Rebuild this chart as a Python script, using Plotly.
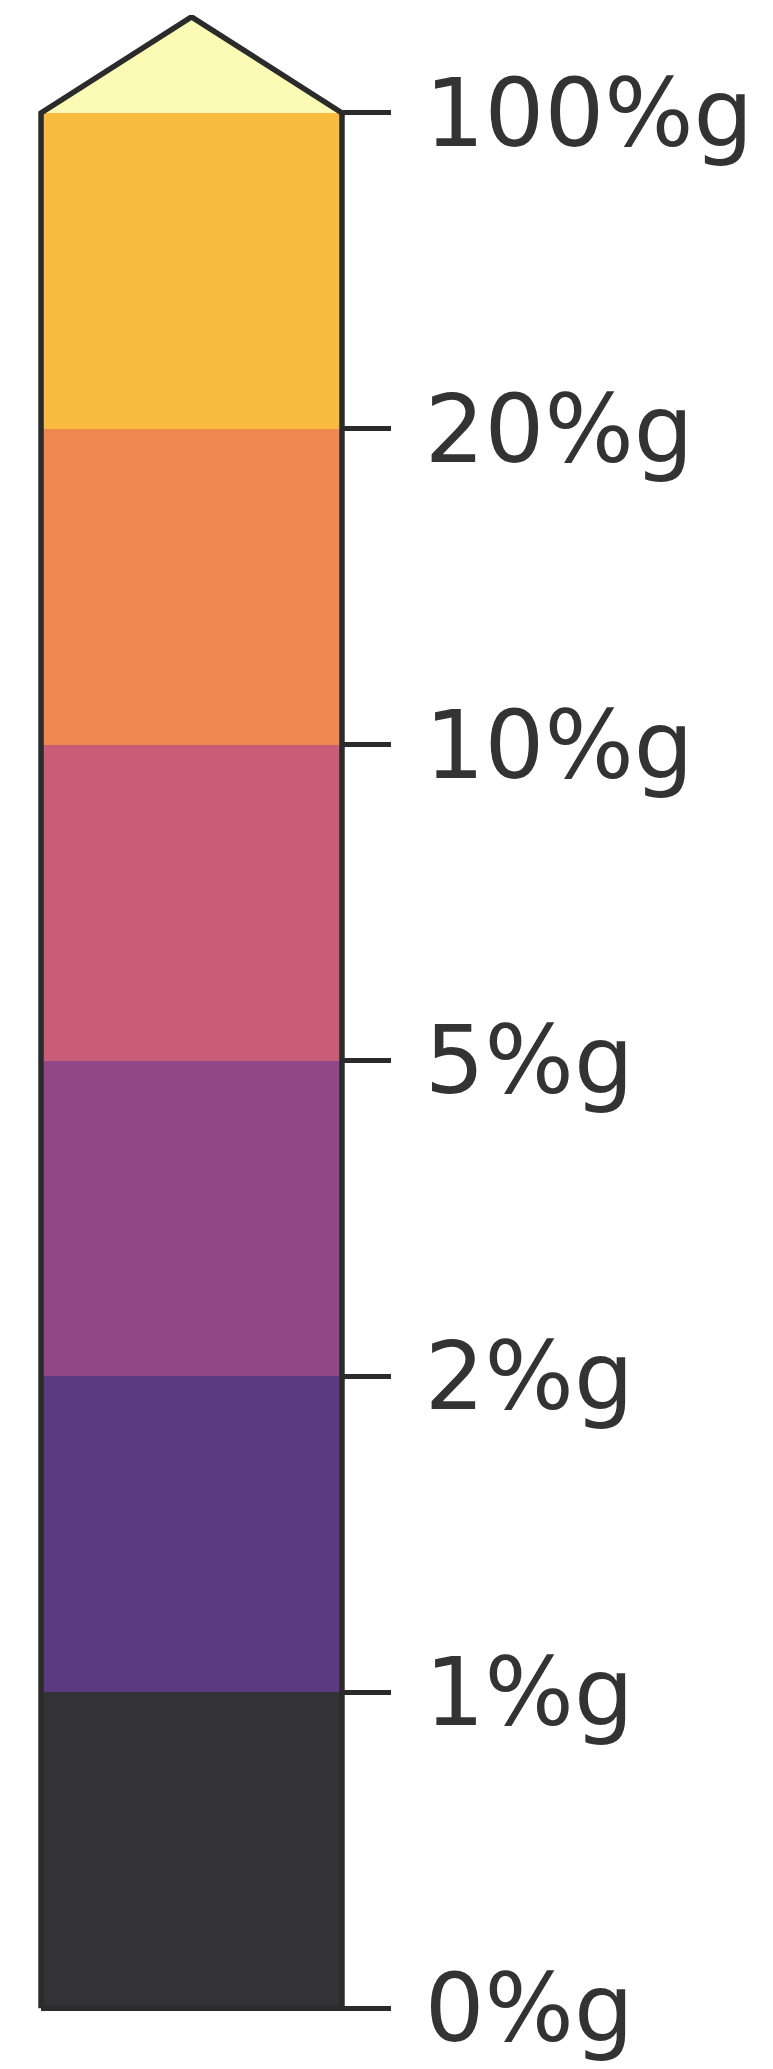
import plotly.graph_objects as go

# Data
boundaries = [0, 1, 2, 5, 10, 20, 100]
tick_labels = ["0%g", "1%g", "2%g", "5%g", "10%g", "20%g", "100%g"]
segment_colors = ["#333236", "#5C3A7F", "#924888", "#C95C77", "#EE8850", "#F9BC41"]
extend_color = "#FBFBB6"

n = len(boundaries) - 1
positions = list(range(len(boundaries)))
ext_h = 0.304
outline = "#2B2B2B"

xr = [-0.52, 0.52]
yr = [-0.015, positions[-1] + 0.31]

fig = go.Figure()

# Colour segments (equal spacing per boundary index)
fig.add_trace(go.Bar(
    x=[0] * n,
    y=[positions[i + 1] - positions[i] for i in range(n)],
    base=positions[:-1],
    width=1,
    marker=dict(color=segment_colors, line=dict(width=0)),
    showlegend=False, hoverinfo="skip",
))

# Extension triangle (max)
top = positions[-1]
fig.add_trace(go.Scatter(
    x=[-0.5, 0, 0.5, -0.5], y=[top, top + ext_h, top, top],
    fill="toself", fillcolor=extend_color, mode="lines",
    line=dict(width=0, color=extend_color), showlegend=False, hoverinfo="skip",
))

# Outline (on the tick-bearing overlay axis)
fig.add_trace(go.Scatter(
    x=[-0.5, 0.5, 0.5, 0, -0.5, -0.5],
    y=[0, 0, top, top + ext_h, top, 0],
    mode="lines", line=dict(width=5.5, color=outline),
    showlegend=False, hoverinfo="skip", yaxis="y2",
))

# position of the bar's right edge within the plot area (0..1)
edge_pos = (0.5 - xr[0]) / (xr[1] - xr[0])

fig.update_layout(
    width=773, height=2069,
    margin=dict(l=35, r=425, t=15, b=56),
    paper_bgcolor="white", plot_bgcolor="white",
    barmode="overlay",
    bargap=0,
    font=dict(family="DejaVu Sans", color="#333333"),
    xaxis=dict(range=xr, visible=False, fixedrange=True, automargin=False),
    yaxis=dict(range=yr, visible=False, automargin=False),
    yaxis2=dict(
        range=yr, overlaying="y", anchor="free", position=edge_pos,
        side="right", automargin=False,
        tickmode="array", tickvals=positions, ticktext=tick_labels,
        ticks="outside", ticklen=48, tickwidth=5, tickcolor=outline,
        ticklabelstandoff=15,
        tickfont=dict(size=94, family="DejaVu Sans", color="#333333"),
        showgrid=False, zeroline=False, showline=False,
    ),
)

fig.write_html(
    "out.html",
    config={"displayModeBar": False},
    post_script="document.body.style.margin='0';document.body.style.padding='0';",
)
